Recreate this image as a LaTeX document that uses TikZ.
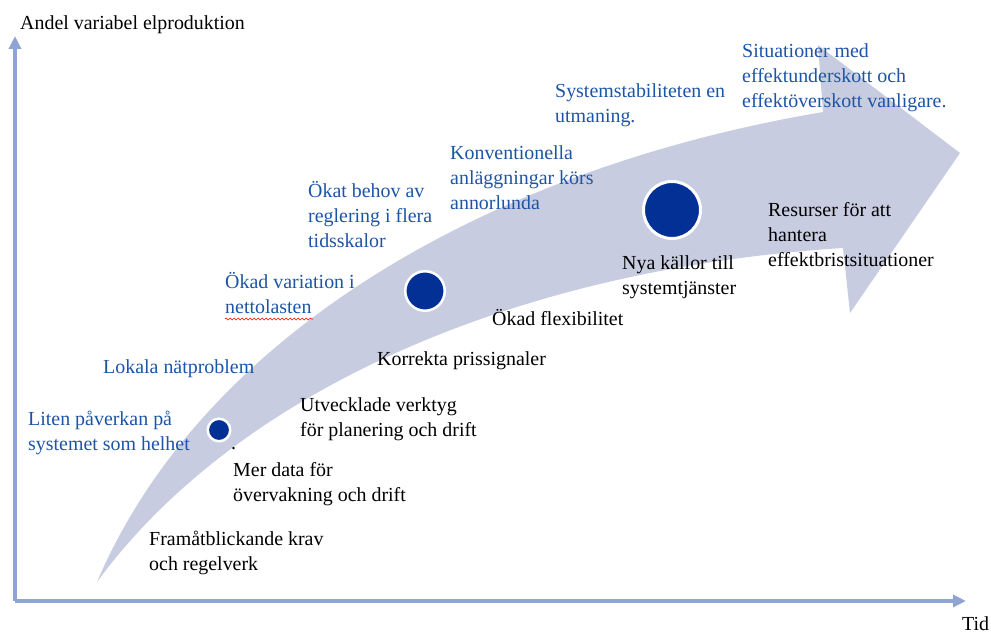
\documentclass[tikz,border=0pt]{standalone}
\usepackage{fontspec}
\setmainfont{Liberation Serif}
\usetikzlibrary{arrows.meta,decorations.pathmorphing}

\definecolor{bandgray}{RGB}{200,204,224}
\definecolor{dotblue}{RGB}{2,48,148}
\definecolor{textblue}{RGB}{28,84,166}
\definecolor{axisblue}{RGB}{143,164,210}

\tikzset{
  lbl/.style={anchor=north west, inner sep=0pt, align=left, font=\fontsize{20}{25}\selectfont, execute at begin node=\strut},
  bluelbl/.style={lbl, text=textblue},
  milestone/.style={circle, fill=dotblue, draw=white, inner sep=0pt},
  axis/.style={draw=axisblue, line width=3.5bp, -{Triangle[length=13bp,width=12bp]}},
}

\begin{document}
\begin{tikzpicture}[x=1bp,y=-1bp]
            \useasboundingbox (0,0) rectangle (991,633);

            \coordinate (origin) at (15,601);
            \coordinate (ytop) at (15,36);
            \coordinate (xend) at (966,601);
            \draw[axis] (origin) -- (ytop);
            \draw[axis] (origin) -- (xend);

            \fill[bandgray] (97,582) .. controls (200,340) and (480,170) .. (823,112)
                -- (818,45) -- (960,153) -- (850,313) -- (843,248)
                .. controls (500,270) and (230,400) .. (97,582) -- cycle;

            \node[milestone, line width=2.5bp, minimum size=22.5bp] (dotA) at (219,430) {};
            \node[milestone, line width=2.5bp, minimum size=39.5bp] (dotB) at (425,291) {};
            \node[milestone, line width=3bp, minimum size=57bp] (dotC) at (672,210) {};

            \node[lbl] (yaxis) at (20,12) {Andel variabel elproduktion};
            \node[lbl, anchor=base west, execute at begin node={}] (xaxis) at (962,630) {Tid};

            \node[bluelbl] (liten) at (28,410.5) {Liten påverkan på\\systemet som helhet};
            \node[bluelbl] (lokala) at (103,355.5) {Lokala nätproblem};
            \node[bluelbl] (variation) at (225,272.5) {Ökad variation i\\nettolasten};
            \node[bluelbl] (behov) at (308,181.5) {Ökat behov av\\reglering i flera\\tidsskalor};
            \node[bluelbl] (konv) at (450,145.5) {Konventionella\\anläggningar körs\\annorlunda};
            \node[bluelbl] (stabil) at (555,83.5) {Systemstabiliteten en\\utmaning.};
            \node[bluelbl] (situation) at (742,43.5) {Situationer med\\effektunderskott och\\effektöverskott vanligare.};

            \draw[red, line width=0.6bp, decorate, decoration={snake, amplitude=0.9bp, segment length=4bp}]
                (225,319) coordinate (wavyA) -- (313,319) coordinate (wavyB);

            \node[lbl] (prick) at (231,431.5) {.};
            \node[lbl] (framat) at (149,530.5) {Framåtblickande krav\\och regelverk};
            \node[lbl] (merdata) at (233,462.5) {Mer data för\\övervakning och drift};
            \node[lbl] (verktyg) at (300,397.5) {Utvecklade verktyg\\för planering och drift};
            \node[lbl] (pris) at (377,347.5) {Korrekta prissignaler};
            \node[lbl] (flex) at (492,307.5) {Ökad flexibilitet};
            \node[lbl] (kallor) at (622,255.5) {Nya källor till\\systemtjänster};
            \node[lbl] (resurser) at (768,202.5) {Resurser för att\\hantera\\effektbristsituationer};
         \end{tikzpicture}
\end{document}
